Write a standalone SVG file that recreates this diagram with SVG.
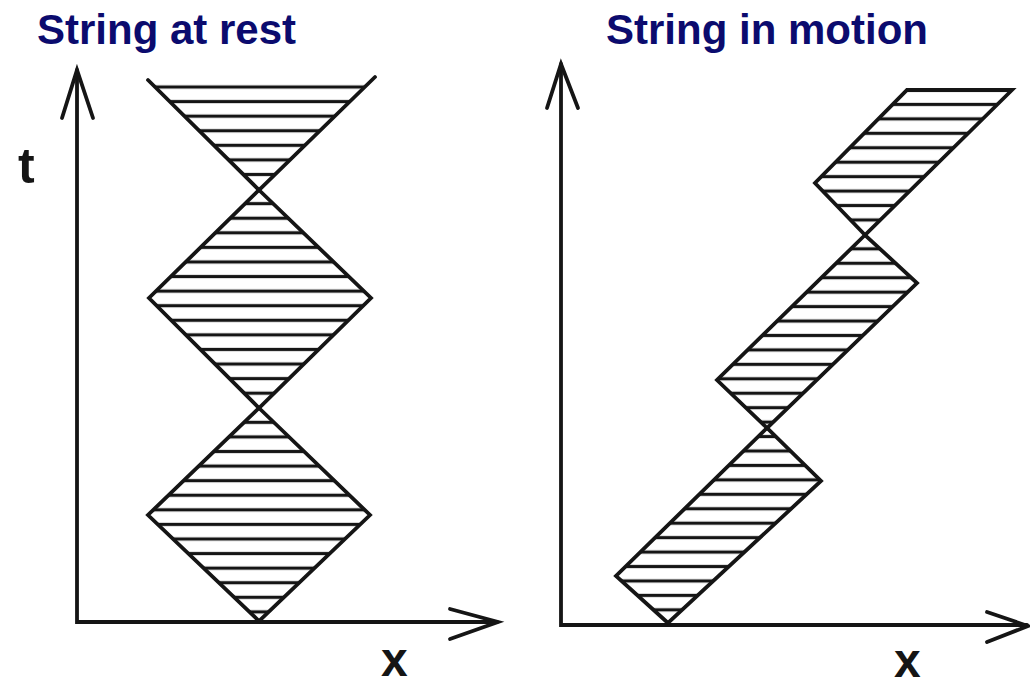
<svg xmlns="http://www.w3.org/2000/svg" width="1030" height="686" viewBox="0 0 1030 686">
<style>
.title{font-family:"Liberation Sans",Arial,sans-serif;font-weight:bold;font-size:42px;fill:#0b0b6e}
.lab{font-family:"Liberation Sans",Arial,sans-serif;fill:#151515;font-weight:bold}
.ol{fill:none;stroke:#151515;stroke-width:3.8;stroke-linejoin:miter;stroke-linecap:round}
.ax{fill:none;stroke:#151515;stroke-width:3.8;stroke-linecap:round;stroke-linejoin:miter}
.hl{fill:url(#hatchL)}
.hr{fill:url(#hatchR)}
</style>
<defs>
<pattern id="hatchL" patternUnits="userSpaceOnUse" x="0" y="79.71" width="1030" height="14.58">
<rect x="0" y="5.7" width="1030" height="3.2" fill="#151515"/>
</pattern>
<pattern id="hatchR" patternUnits="userSpaceOnUse" x="0" y="82.78" width="1030" height="14.44">
<rect x="0" y="5.62" width="1030" height="3.2" fill="#151515"/>
</pattern>
</defs>
<rect width="1030" height="686" fill="#ffffff"/>

<g id="title-rest"><text class="title" x="37" y="44">String at rest</text></g>
<g id="title-motion"><text class="title" x="606" y="44">String in motion</text></g>

<g id="axes-left">
<polyline class="ax" points="77,70 77,622 497,622"/>
<polyline class="ax" points="62,118 77,70 93,118"/>
<polyline class="ax" points="450,609 498,622 450,639"/>
<text class="lab" x="18" y="183" font-size="50">t</text>
<text class="lab" x="381" y="676" font-size="48">x</text>
</g>

<g id="axes-right">
<polyline class="ax" points="561,64 561,625 1027,625"/>
<polyline class="ax" points="547,108 561,64 578,108"/>
<polyline class="ax" points="987,612 1028,626 987,642"/>
<text class="lab" x="894" y="677" font-size="48">x</text>
</g>

<g id="rest-top">
<polygon class="hl" points="148,80 375,77 259,190"/>
<polyline class="ol" points="148,80 259,190 375,77"/>
</g>
<g id="rest-mid">
<polygon class="hl" points="259,190 371,298 259,408 149,298"/>
<polygon class="ol" points="259,190 371,298 259,408 149,298"/>
</g>
<g id="rest-low">
<polygon class="hl" points="259,408 370,515 259,621 148,515"/>
<polygon class="ol" points="259,408 370,515 259,621 148,515"/>
</g>

<g id="motion-low">
<polygon class="hr" points="668,623 616,576 767,428 821,481"/>
<polygon class="ol" points="668,623 616,576 767,428 821,481"/>
</g>
<g id="motion-mid">
<polygon class="hr" points="767,428 717,380 865,235 917,283"/>
<polygon class="ol" points="767,428 717,380 865,235 917,283"/>
</g>
<g id="motion-top">
<polygon class="hr" points="865,235 815,183 907,90 1012,90"/>
<polygon class="ol" points="865,235 815,183 907,90 1012,90"/>
</g>
</svg>
